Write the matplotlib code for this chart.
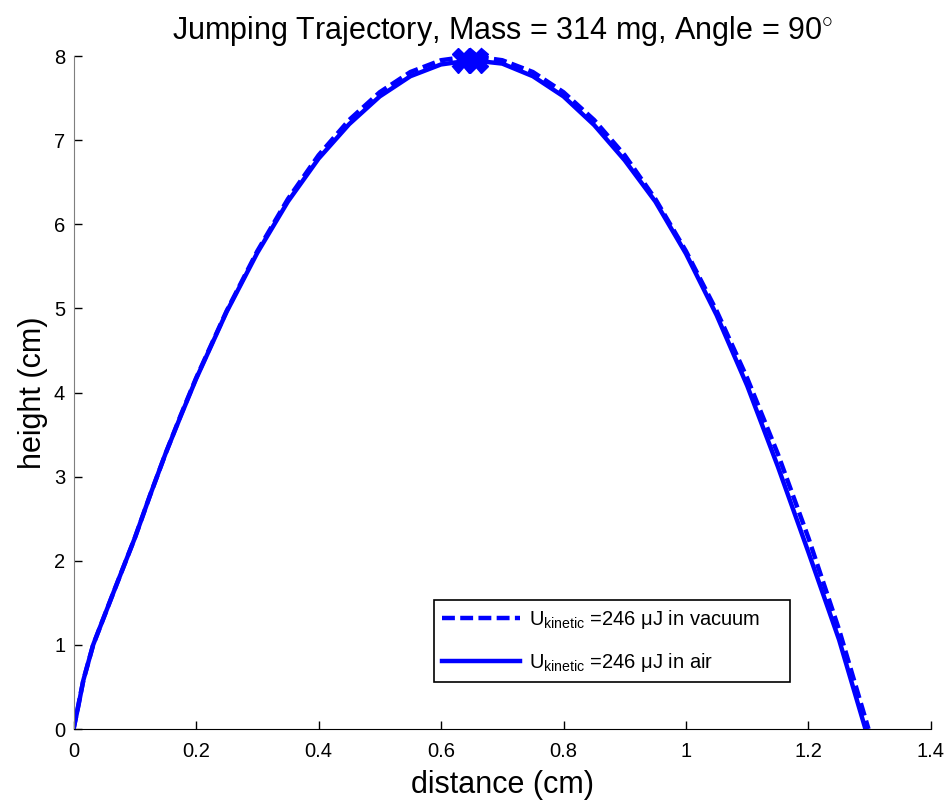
import matplotlib
matplotlib.use('Agg')
import matplotlib.pyplot as plt

plt.rcParams['font.family'] = ['Liberation Sans', 'DejaVu Sans']
plt.rcParams['mathtext.fontset'] = 'custom'
plt.rcParams['mathtext.rm'] = 'Liberation Sans'
plt.rcParams['mathtext.it'] = 'Liberation Sans'

# trajectory in vacuum (dashed)
vac_x = [0, 0.016, 0.032, 0.065, 0.1, 0.125, 0.15, 0.175, 0.2, 0.25, 0.3, 0.35, 0.4, 0.45, 0.5,
         0.55, 0.6, 0.65, 0.7, 0.75, 0.8, 0.85, 0.9, 0.95, 1.0, 1.05, 1.1, 1.15, 1.2, 1.25, 1.298]
vac_y = [0, 0.58, 1.0, 1.62, 2.27, 2.78, 3.27, 3.73, 4.17, 4.97, 5.68, 6.30, 6.82, 7.24, 7.57,
         7.81, 7.95, 8.0, 7.95, 7.81, 7.57, 7.24, 6.82, 6.30, 5.68, 4.97, 4.17, 3.27, 2.27, 1.18, 0]

# trajectory in air (solid)
air_x = [0, 0.008, 0.016, 0.032, 0.065, 0.1, 0.125, 0.15, 0.175, 0.2, 0.25, 0.3, 0.35, 0.4, 0.45,
         0.5, 0.55, 0.6, 0.65, 0.7, 0.75, 0.8, 0.85, 0.9, 0.95, 1.0, 1.05, 1.1, 1.15, 1.2, 1.25, 1.293]
air_y = [0, 0.28, 0.58, 1.0, 1.62, 2.27, 2.78, 3.27, 3.72, 4.16, 4.96, 5.66, 6.27, 6.78, 7.19,
         7.52, 7.76, 7.90, 7.95, 7.91, 7.76, 7.52, 7.18, 6.76, 6.27, 5.65, 4.92, 4.08, 3.12, 2.10, 1.06, 0]

# apex markers
apex_x = [0.638, 0.656]
apex_y = [7.95, 7.95]

labels = ['U$_{\\mathrm{kinetic}}$ =246 \u03bcJ in vacuum',
          'U$_{\\mathrm{kinetic}}$ =246 \u03bcJ in air']

fig = plt.figure(figsize=(9.49, 8.05), dpi=100)
ax = fig.add_axes([0.0775, 0.0944, 0.9035, 0.836])

l1, = ax.plot(vac_x, vac_y, color='blue', lw=3.2, ls='--', label=labels[0])
l1.set_dashes([2.9, 1.2])
ax.plot(air_x, air_y, color='blue', lw=3.2, label=labels[1])
ax.plot(apex_x, apex_y, ls='none', marker='X', ms=18, color='blue', clip_on=False, zorder=5)

ax.set_xlim(0, 1.4)
ax.set_ylim(0, 8)
ax.set_xticks([0, 0.2, 0.4, 0.6, 0.8, 1, 1.2, 1.4])
ax.set_xticklabels(['0', '0.2', '0.4', '0.6', '0.8', '1', '1.2', '1.4'])
ax.set_yticks(range(0, 9))

ax.spines['top'].set_visible(False)
ax.spines['right'].set_visible(False)
ax.spines['left'].set_color('#7f7f7f')
ax.spines['bottom'].set_color('black')
ax.tick_params(direction='in', length=6, width=1, labelsize=14.5, colors='black')
ax.tick_params(axis='x', pad=9)
ax.tick_params(axis='y', pad=6)

ax.set_title('Jumping Trajectory, Mass = 314 mg, Angle = 90$^{\\circ}$', fontsize=22, pad=12)
ax.set_xlabel('distance (cm)', fontsize=22, labelpad=7)
ax.set_ylabel('height (cm)', fontsize=22, labelpad=4)

leg = ax.legend(loc='lower left', bbox_to_anchor=(0.420, 0.070, 0.416, 0.135), mode='expand',
                fontsize=14.5, fancybox=False, framealpha=1, edgecolor='black',
                handlelength=3.9, handletextpad=0.45, labelspacing=1.0, borderaxespad=0)
leg.get_frame().set_linewidth(1.2)

fig.savefig('out.png', dpi=100)
